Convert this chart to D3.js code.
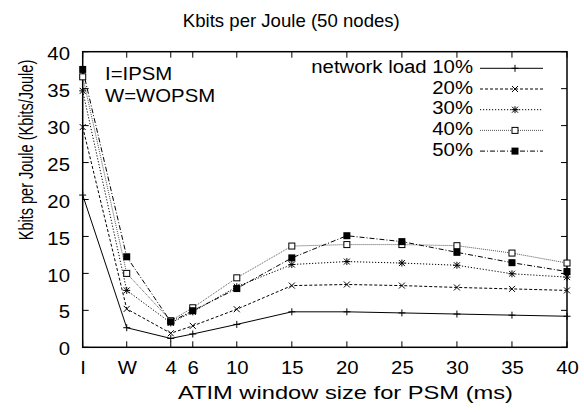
<!DOCTYPE html>
<html>
<head>
<meta charset="utf-8">
<script src="https://cdn.jsdelivr.net/npm/d3@7"></script>
<style>
  html, body { margin: 0; padding: 0; background: #fff; }
  svg { display: block; font-family: "Liberation Sans", Arial, Helvetica, sans-serif; }
</style>
</head>
<body>
<svg id="chart" width="584" height="412"></svg>
<script>
// Category labels and their numeric positions on the x axis (ms)
const categories = ["I", "W", "4", "6", "10", "15", "20", "25", "30", "35", "40"];
const positions  = [-4, 0, 4, 6, 10, 15, 20, 25, 30, 35, 40];
const yTicks     = [0, 5, 10, 15, 20, 25, 30, 35, 40];

// Kbits per Joule for each network load
const load10 = [20.6, 2.65, 1.2, 1.8, 3.1, 4.8, 4.8, 4.65, 4.5, 4.35, 4.2];
const load20 = [29.8, 5.2, 1.9, 2.9, 5.15, 8.35, 8.5, 8.35, 8.1, 7.9, 7.7];
const load30 = [34.7, 7.7, 3.3, 4.8, 8.2, 11.2, 11.6, 11.4, 11.1, 9.95, 9.5];
const load40 = [36.6, 10.0, 3.6, 5.35, 9.4, 13.7, 13.9, 13.9, 13.75, 12.75, 11.4];
const load50 = [37.6, 12.25, 3.45, 4.95, 7.95, 12.1, 15.1, 14.3, 12.85, 11.45, 10.25];

const seriesNames = ["network load 10%", "20%", "30%", "40%", "50%"];

const series = [
  { name: seriesNames[0], values: load10, dash: null,        stroke: "#000", marker: "plus" },
  { name: seriesNames[1], values: load20, dash: "3,2",       stroke: "#000", marker: "cross" },
  { name: seriesNames[2], values: load30, dash: "1.2,1.8",   stroke: "#000", marker: "star" },
  { name: seriesNames[3], values: load40, dash: "1,1",       stroke: "#555", marker: "box" },
  { name: seriesNames[4], values: load50, dash: "5,2,1,2",   stroke: "#000", marker: "fbox" }
];

const svg = d3.select("#chart");
svg.append("rect").attr("width", 584).attr("height", 412).attr("fill", "#fff");

const plotL = 82.7, plotR = 567, plotT = 51.7, plotB = 347.3;
const x = d3.scaleLinear().domain([-4, 40]).range([plotL, plotR]);
const y = d3.scaleLinear().domain([0, 40]).range([plotB, plotT]);

const tickLen = 6;
const fs = 18;
const wide = 1.13;   // horizontal stretch of the lettering

// Widen text glyphs by a factor, or fit them to a given length
function stretch(sel, k) {
  sel.each(function () {
    const w = this.getComputedTextLength();
    d3.select(this).attr("textLength", w * k).attr("lengthAdjust", "spacingAndGlyphs");
  });
}
function fit(sel, len) {
  sel.attr("textLength", len).attr("lengthAdjust", "spacingAndGlyphs");
}

// Axes: labels outside, inward ticks mirrored on all four sides
const xAxis = d3.axisBottom(x).tickValues(positions)
  .tickFormat((d, i) => categories[i]).tickSize(0);
const yAxis = d3.axisLeft(y).tickValues(yTicks).tickSize(0);

const gx = svg.append("g").attr("transform", `translate(0,${plotB})`).call(xAxis);
const gy = svg.append("g").attr("transform", `translate(${plotL},0)`).call(yAxis);
[gx, gy].forEach(g => {
  g.select(".domain").remove();
  g.selectAll("text").attr("font-size", fs).attr("fill", "#000")
    .attr("font-family", "Liberation Sans, Arial, sans-serif");
});
gx.selectAll("text").attr("y", 0).attr("dy", 26.7);
gy.selectAll("text").attr("x", -12.7).attr("dy", 7.6);
stretch(gx.selectAll("text"), wide);
stretch(gy.selectAll("text"), wide);

const ticks = svg.append("g").attr("stroke", "#000").attr("stroke-width", 1);
positions.forEach(p => {
  ticks.append("line").attr("x1", x(p)).attr("x2", x(p)).attr("y1", plotB).attr("y2", plotB - tickLen);
  ticks.append("line").attr("x1", x(p)).attr("x2", x(p)).attr("y1", plotT).attr("y2", plotT + tickLen);
});
yTicks.forEach(v => {
  ticks.append("line").attr("x1", plotL).attr("x2", plotL + tickLen).attr("y1", y(v)).attr("y2", y(v));
  ticks.append("line").attr("x1", plotR).attr("x2", plotR - tickLen).attr("y1", y(v)).attr("y2", y(v));
});

// Frame
svg.append("rect").attr("x", plotL).attr("y", plotT)
  .attr("width", plotR - plotL).attr("height", plotB - plotT)
  .attr("fill", "none").attr("stroke", "#000").attr("stroke-width", 1.5);

// Titles
fit(svg.append("text").attr("x", 291.3).attr("y", 27).attr("text-anchor", "middle")
  .attr("font-size", 19).text("Kbits per Joule (50 nodes)"), 217);
fit(svg.append("text").attr("x", 345.5).attr("y", 399).attr("text-anchor", "middle")
  .attr("font-size", 19).text("ATIM window size for PSM (ms)"), 335);
// Rotated y title: glyphs heightened across the reading direction
svg.append("text").attr("transform", "translate(33,150) rotate(-90) scale(1,1.35)")
  .attr("text-anchor", "middle").attr("font-size", 14.5)
  .text("Kbits per Joule (Kbits/Joule)");

stretch(svg.append("text").attr("x", 105).attr("y", 80).attr("font-size", fs).text("I=IPSM"), wide);
stretch(svg.append("text").attr("x", 105).attr("y", 101.7).attr("font-size", fs).text("W=WOPSM"), wide);

// Marker drawing
function drawMarker(g, type, cx, cy, color) {
  const s = 3.5;
  const m = g.append("g").attr("stroke", color).attr("stroke-width", 1);
  if (type === "plus" || type === "star") {
    m.append("line").attr("x1", cx - s).attr("x2", cx + s).attr("y1", cy).attr("y2", cy);
    m.append("line").attr("x1", cx).attr("x2", cx).attr("y1", cy - s).attr("y2", cy + s);
  }
  if (type === "cross" || type === "star") {
    const c = 3;
    m.append("line").attr("x1", cx - c).attr("x2", cx + c).attr("y1", cy - c).attr("y2", cy + c);
    m.append("line").attr("x1", cx - c).attr("x2", cx + c).attr("y1", cy + c).attr("y2", cy - c);
  }
  if (type === "box") {
    m.append("rect").attr("x", cx - 3).attr("y", cy - 3).attr("width", 6).attr("height", 6)
      .attr("fill", "#fff").attr("stroke", "#000");
  }
  if (type === "fbox") {
    m.append("rect").attr("x", cx - 3.5).attr("y", cy - 3.5).attr("width", 7).attr("height", 7)
      .attr("fill", "#000").attr("stroke", "none");
  }
}

const line = d3.line().x(d => x(d[0])).y(d => y(d[1]));
const plot = svg.append("g");

series.forEach(s => {
  const pts = positions.map((p, i) => [p, s.values[i]]);
  plot.append("path").datum(pts).attr("d", line)
    .attr("fill", "none").attr("stroke", s.stroke).attr("stroke-width", 1)
    .attr("stroke-dasharray", s.dash);
});
series.forEach(s => {
  positions.forEach((p, i) => drawMarker(plot, s.marker, x(p), y(s.values[i]), "#000"));
});

// Legend
const legY0 = 68.3, legStep = 20.7;
series.forEach((s, i) => {
  const ly = legY0 + i * legStep;
  stretch(svg.append("text").attr("x", 473).attr("y", ly + 4.6).attr("text-anchor", "end")
    .attr("font-size", fs).text(s.name), wide);
  svg.append("line").attr("x1", 480).attr("x2", 543).attr("y1", ly).attr("y2", ly)
    .attr("stroke", s.stroke).attr("stroke-width", 1).attr("stroke-dasharray", s.dash);
  drawMarker(svg, s.marker, 515, ly, "#000");
});
</script>
</body>
</html>
